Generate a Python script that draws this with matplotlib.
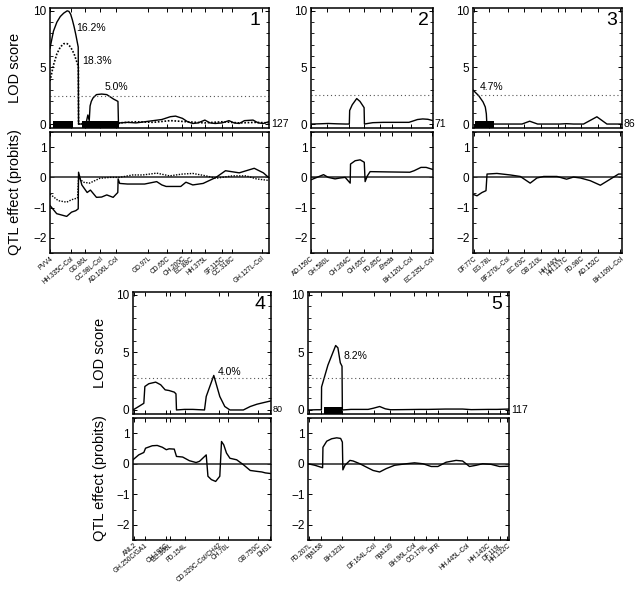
import matplotlib
matplotlib.use('Agg')
import matplotlib.pyplot as plt
from matplotlib.ticker import MultipleLocator

plt.rcParams['font.family'] = ['Liberation Sans', 'DejaVu Sans']

# ---- chromosome 1 (127 cM) ----
c1_len = 127
c1_lod_pos = [0, 2, 4, 6, 8, 10, 11, 12, 13, 14, 15, 16.4, 16.6, 20, 21, 22, 22.8, 23.3, 24, 25, 27,
              30, 33, 35, 37, 39.5, 39.8, 40.5, 45, 50, 55, 60, 65, 70, 73, 77, 80, 83, 86, 90, 93,
              96, 100, 104, 107, 110, 113, 118, 121, 124, 127]
c1_lod = [6.7, 8.2, 9.0, 9.5, 9.8, 10.0, 9.95, 9.7, 9.2, 8.6, 7.9, 6.8, 0.0, 0.0, 0.1, 0.8, 0.3, 1.6,
          2.0, 2.3, 2.6, 2.65, 2.6, 2.4, 2.2, 2.0, 0.0, 0.1, 0.15, 0.1, 0.2, 0.3, 0.4, 0.65, 0.7, 0.5,
          0.2, 0.05, 0.1, 0.35, 0.1, 0.05, 0.1, 0.3, 0.1, 0.05, 0.3, 0.35, 0.1, 0.05, 0.2]
c1_lod2_pos = [0, 2, 4, 6, 8, 10, 12, 14, 16, 16.5, 16.6, 20, 25, 30, 40, 50, 60, 70, 80, 90, 100,
               110, 120, 127]
c1_lod2 = [3.8, 5.2, 6.2, 6.8, 7.1, 7.1, 6.8, 6.2, 5.3, 5.0, 0.0, 0.05, 0.1, 0.05, 0.1, 0.2, 0.15,
           0.3, 0.2, 0.1, 0.2, 0.1, 0.15, 0.1]
c1_eff_pos = [0, 3.9, 9.7, 12.5, 15, 16.4, 16.6, 18.5, 21.6, 23.5, 27, 30, 33, 36.7, 39.4, 39.6, 40.5,
              45, 55, 62, 65, 67.5, 76, 79, 83, 89, 96.5, 102, 110, 118.7, 124, 127]
c1_eff = [-0.93, -1.2, -1.29, -1.15, -1.1, -1.04, 0.17, -0.25, -0.5, -0.42, -0.66, -0.65, -0.58, -0.66,
          -0.5, -0.05, -0.2, -0.22, -0.22, -0.14, -0.25, -0.3, -0.3, -0.16, -0.25, -0.2, 0.0, 0.22,
          0.15, 0.3, 0.15, 0.0]
c1_eff2_pos = [0, 4.8, 9.7, 12.5, 16, 16.6, 19.3, 23, 29, 35, 40.5, 48, 54, 62, 69.5, 77, 83, 90.7,
               96.5, 106, 114, 120, 127]
c1_eff2 = [-0.55, -0.77, -0.82, -0.74, -0.68, 0.0, -0.16, -0.19, -0.03, 0.0, 0.0, 0.08, 0.08, 0.14,
           0.05, 0.11, 0.13, 0.05, -0.03, 0.05, 0.05, -0.05, -0.1]
c1_markers = ['PVV4', 'HH.335C-Col', 'GD.86L', 'CC.98L-Col', 'AD.106L-Col', 'GD.97L', 'CD.65C',
              'CH.200C', 'EC.88C', 'HH.375L', 'SF.115C', 'CC.318C', 'GH.127L-Col']
c1_marker_pos = [0, 12, 20.5, 29, 38.5, 57, 68, 77, 82, 90, 100, 105.5, 123]
c1_ci = [(1.7, 13.4), (18.6, 40)]
c1_pct = [('16.2%', 15.2, 8.5), ('18.3%', 18.8, 5.6), ('5.0%', 32, 3.3)]

# ---- chromosome 2 (71 cM) ----
c2_len = 71
c2_lod_pos = [0, 5, 10, 15, 20, 22.3, 22.5, 24, 26.6, 28.5, 30.9, 31.1, 33, 36, 42, 50, 57, 59, 62,
              65, 68, 71]
c2_lod = [0.0, 0.02, 0.05, 0.02, 0.0, 0.0, 1.2, 1.7, 2.25, 2.0, 1.45, 0.0, 0.05, 0.12, 0.15, 0.15,
          0.15, 0.25, 0.4, 0.45, 0.42, 0.3]
c2_eff_pos = [0, 7.3, 10, 14, 17, 19.9, 22.8, 23, 25.7, 28.6, 31, 31.5, 32.8, 34.4, 45, 57.5, 60,
              64, 67, 71]
c2_eff = [-0.08, 0.09, 0.0, -0.05, -0.02, 0.0, -0.19, 0.44, 0.55, 0.58, 0.5, -0.14, 0.05, 0.19, 0.18,
          0.17, 0.22, 0.33, 0.33, 0.26]
c2_markers = ['AD.159C', 'GH.580L', 'CH.264C', 'CH.65C', 'FD.85C', 'Ereda', 'BH.120L-Col',
              'EC.235L-Col']
c2_marker_pos = [0, 9.5, 22, 31, 40, 47, 58, 70.5]

# ---- chromosome 3 (86 cM) ----
c3_len = 86
c3_lod_pos = [0, 3.3, 5.8, 7.1, 7.7, 8.0, 28.3, 32.7, 37.3, 50, 54, 58, 63.8, 71.5, 77.3, 86]
c3_lod = [3.0, 2.5, 1.95, 1.5, 0.9, 0.0, 0.0, 0.25, 0.0, 0.0, 0.03, 0.0, 0.0, 0.64, 0.0, 0.0]
c3_eff_pos = [0, 2.3, 5.2, 7.5, 8.1, 13.8, 21.5, 27.3, 33, 36.9, 40.8, 48.5, 54, 58, 62, 67.7, 73.5,
              79.2, 84, 86]
c3_eff = [-0.56, -0.61, -0.5, -0.44, 0.11, 0.13, 0.08, 0.03, -0.19, -0.02, 0.03, 0.03, -0.06, 0.01,
          -0.02, -0.11, -0.26, -0.06, 0.11, 0.11]
c3_markers = ['DF.77C', 'EG.78L', 'BF.270L-Col', 'EC.63C', 'GB.210L', 'HH.440L', 'HH.117C', 'FD.98C',
              'AD.152C', 'BH.109L-Col']
c3_marker_pos = [0.5, 9.5, 20, 29.5, 39, 49, 53, 62.5, 72, 85]
c3_ci = [(1, 11.9)]
c3_pct = [('4.7%', 4, 3.3)]

# ---- chromosome 4 (80 cM) ----
c4_len = 80
c4_lod_pos = [0, 3.3, 6.3, 6.9, 9.2, 13.2, 16.1, 18.7, 21, 24, 25, 25.3, 30, 34.8, 41.6, 42.6, 47,
              50.5, 53.4, 56.4, 64.2, 68.2, 72.1, 76, 80]
c4_lod = [0.0, 0.3, 0.58, 2.04, 2.28, 2.42, 2.19, 1.75, 1.69, 1.55, 1.4, 0.0, 0.05, 0.05, 0.0, 1.17,
          3.0, 1.17, 0.3, 0.0, 0.0, 0.3, 0.5, 0.64, 0.78]
c4_eff_pos = [0, 3.3, 6.3, 7.3, 11.2, 14.1, 17.1, 19.4, 21, 24, 25.3, 28.9, 32.8, 36.7, 38.7, 42.6,
              43.6, 45.6, 48.1, 50.5, 51.5, 52.8, 54.4, 56.4, 60.3, 64.2, 68.2, 72.1, 75, 77, 80]
c4_eff = [0.13, 0.29, 0.37, 0.51, 0.59, 0.6, 0.54, 0.46, 0.49, 0.48, 0.24, 0.22, 0.1, 0.04, 0.08, 0.29,
          -0.41, -0.52, -0.58, -0.41, 0.73, 0.62, 0.35, 0.18, 0.13, -0.03, -0.22, -0.25, -0.27, -0.3,
          -0.32]
c4_markers = ['ANL2', 'GH.250C/GA1', 'CH.195C', 'EC.306L', 'FD.154L', 'CD.329C-Col/CH42', 'CH.70L',
              'GB.750C', 'DHS1']
c4_marker_pos = [0.5, 7, 19, 21.5, 30, 50, 55, 73, 79.5]
c4_pct = [('4.0%', 49.4, 3.3)]

# ---- chromosome 5 (117 cM) ----
c5_len = 117
c5_lod_pos = [0, 5, 7.8, 7.9, 11.6, 16.1, 17.4, 18.8, 19.8, 20, 25, 35, 38, 41.7, 45, 48, 55, 65, 70,
              80, 90, 95, 105, 110, 117]
c5_lod = [0.0, 0.02, 0.02, 2.0, 3.9, 5.6, 5.4, 4.1, 3.8, 0.0, 0.05, 0.05, 0.15, 0.3, 0.1, 0.02, 0.03,
          0.05, 0.05, 0.08, 0.08, 0.03, 0.05, 0.05, 0.08]
c5_eff_pos = [0, 4, 8.5, 8.7, 10.9, 13.8, 16.7, 19, 20, 20.3, 21.5, 24.4, 26.3, 30.2, 34, 37.9, 41.7,
              45.5, 50.4, 57.2, 62, 66.9, 71.7, 75.6, 80.4, 86.2, 90, 94, 97.9, 101.7, 106.6, 111.5,
              117]
c5_eff = [0.0, -0.05, -0.13, 0.54, 0.74, 0.82, 0.85, 0.83, 0.71, -0.2, -0.05, 0.11, 0.09, 0.0, -0.11,
          -0.22, -0.27, -0.16, -0.05, 0.0, 0.03, 0.0, -0.09, -0.09, 0.05, 0.11, 0.09, -0.09, -0.05, 0.0,
          -0.02, -0.09, -0.08]
c5_markers = ['FD.207L', 'nga158', 'BH.323L', 'DF.164L-Col', 'nga139', 'BH.96L-Col', 'CO.179L', 'DFR',
              'HH.445L-Col', 'HH.143C', 'DF.119L', 'HH.122C']
c5_marker_pos = [0.5, 7.5, 20, 38.5, 48, 61.5, 68.5, 75.5, 92.5, 104.5, 111.5, 116]
c5_ci = [(9.3, 20)]
c5_pct = [('8.2%', 20.5, 4.7)]

thresholds = [2.5, 2.6, 2.6, 2.8, 2.8]

W, H = 639, 591
fig = plt.figure(figsize=(W / 100, H / 100), dpi=100)


def box(x0, y0, x1, y1):
    return [x0 / W, 1 - y1 / H, (x1 - x0) / W, (y1 - y0) / H]


def style(ax, length, marker_pos):
    ax.set_xlim(0, length)
    for s in ax.spines.values():
        s.set_linewidth(1.1)
    ax.set_xticks(marker_pos)
    ax.tick_params(axis='both', direction='in', top=True, right=True, length=3, width=0.7,
                   labelsize=8.5, pad=2.5)
    ax.tick_params(axis='y', which='minor', direction='in', right=True, length=2, width=0.6)


def draw(num, length, rect_top, rect_bot, lod_pos, lod, eff_pos, eff, markers, marker_pos,
         thr, ci=(), pcts=(), extra=None):
    at = fig.add_axes(rect_top)
    at.plot(lod_pos, lod, color='black', lw=1.0)
    at.axhline(thr, color='#555555', lw=0.8, ls=(0, (1, 2.5)))
    for a, b in ci:
        at.bar(a, 0.6, width=b - a, bottom=-0.35, align='edge', color='black')
    for txt, xp, yp in pcts:
        at.text(xp, yp, txt, fontsize=7.5, va='center', ha='left')
    at.set_ylim(-0.35, 10.25)
    at.set_yticks([0, 5, 10])
    at.yaxis.set_minor_locator(MultipleLocator(1))
    style(at, length, marker_pos)
    at.set_xticklabels([])
    at.text(0.965, 0.965, str(num), transform=at.transAxes, ha='right', va='top', fontsize=14)
    at.text(length * 1.012, 0, str(length), fontsize=7.5 if length != 80 else 6.5,
            ha='left', va='center', clip_on=False)

    ab = fig.add_axes(rect_bot)
    ab.axhline(0, color='#333333', lw=1.2)
    ab.plot(eff_pos, eff, color='black', lw=1.0)
    if extra is not None:
        at.plot(extra[0], extra[1], color='black', lw=1.2, ls=(0, (1, 1)))
        ab.plot(extra[2], extra[3], color='black', lw=1.0, ls=(0, (1, 1)))
    ab.set_ylim(-2.5, 1.5)
    ab.set_yticks([-2, -1, 0, 1])
    ab.yaxis.set_minor_locator(MultipleLocator(0.5))
    style(ab, length, marker_pos)
    ab.set_xticklabels(markers, rotation=40, ha='right', va='top', rotation_mode='anchor',
                       fontsize=4.7)
    ab.tick_params(axis='x', pad=1.5)
    for lab in ab.get_xticklabels():
        if lab.get_text() == 'Ereda':
            lab.set_fontstyle('italic')
    return at, ab


draw(1, c1_len, box(50, 8, 268.5, 128), box(50, 132, 268.5, 253), c1_lod_pos, c1_lod,
     c1_eff_pos, c1_eff, c1_markers, c1_marker_pos, thresholds[0], c1_ci, c1_pct,
     extra=(c1_lod2_pos, c1_lod2, c1_eff2_pos, c1_eff2))
draw(2, c2_len, box(311, 8, 433, 128), box(311, 132, 433, 253), c2_lod_pos, c2_lod,
     c2_eff_pos, c2_eff, c2_markers, c2_marker_pos, thresholds[1])
draw(3, c3_len, box(473, 8, 622, 128), box(473, 132, 622, 253), c3_lod_pos, c3_lod,
     c3_eff_pos, c3_eff, c3_markers, c3_marker_pos, thresholds[2], c3_ci, c3_pct)
draw(4, c4_len, box(133, 292, 270.5, 414), box(133, 418, 270.5, 540), c4_lod_pos, c4_lod,
     c4_eff_pos, c4_eff, c4_markers, c4_marker_pos, thresholds[3], pcts=c4_pct)
draw(5, c5_len, box(308, 292, 509, 414), box(308, 418, 509, 540), c5_lod_pos, c5_lod,
     c5_eff_pos, c5_eff, c5_markers, c5_marker_pos, thresholds[4], c5_ci, c5_pct)

for xp, yp, txt in [(15, 68, 'LOD score'), (15, 192, 'QTL effect (probits)'),
                    (100, 353, 'LOD score'), (100, 478, 'QTL effect (probits)')]:
    fig.text(xp / W, 1 - yp / H, txt, rotation=90, ha='center', va='center', fontsize=10.5)

fig.savefig('out.png', dpi=100)
